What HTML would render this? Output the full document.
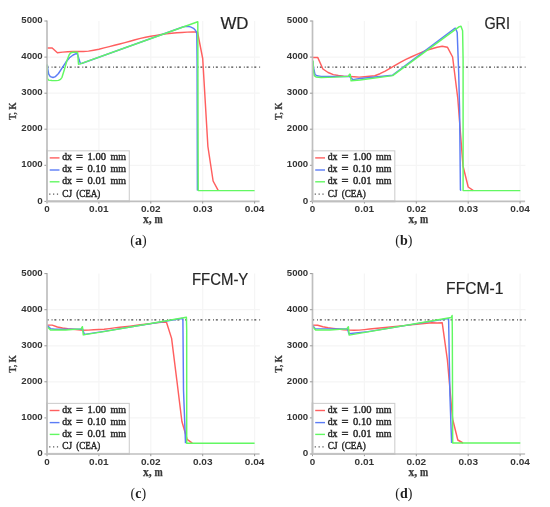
<!DOCTYPE html>
<html><head><meta charset="utf-8"><title>Figure</title>
<style>
html,body{margin:0;padding:0;background:#fff;}
body{width:550px;height:507px;overflow:hidden;font-family:"Liberation Sans",sans-serif;}
svg{display:block;filter:blur(0.35px);}
</style></head>
<body>
<svg width="550" height="507" viewBox="0 0 550 507">
<rect width="550" height="507" fill="#fff"/>
<g stroke="#f5f5f5" stroke-width="1.2"><line x1="98.9" y1="21.0" x2="98.9" y2="201.4"/><line x1="150.8" y1="21.0" x2="150.8" y2="201.4"/><line x1="202.7" y1="21.0" x2="202.7" y2="201.4"/><line x1="254.6" y1="21.0" x2="254.6" y2="201.4"/><line x1="47.0" y1="165.3" x2="259.9" y2="165.3"/><line x1="47.0" y1="129.2" x2="259.9" y2="129.2"/><line x1="47.0" y1="93.2" x2="259.9" y2="93.2"/><line x1="47.0" y1="57.1" x2="259.9" y2="57.1"/></g>
<line x1="47.0" y1="67.2" x2="260.1" y2="67.2" stroke="#444" stroke-width="1.3" stroke-dasharray="2 2.95 0.9 1.84" stroke-dashoffset="0.35"/>
<polyline points="47.0,48.0 52.2,48.0 57.4,52.8 62.6,52.1 67.8,51.8 73.0,51.5 78.1,51.5 83.3,51.5 88.5,51.1 93.7,50.2 98.9,49.2 104.1,47.9 109.3,46.6 114.5,45.3 119.7,44.0 124.9,42.6 130.0,41.2 135.2,39.7 140.4,38.4 145.6,37.3 150.8,36.3 156.0,35.4 161.2,34.5 166.4,33.9 171.6,33.3 176.8,32.8 181.9,32.5 187.1,32.1 192.3,31.9 197.5,32.0 202.7,58.5 207.9,146.5 213.1,181.0 218.3,190.6" fill="none" stroke="#ff5f5f" stroke-width="1.45" stroke-linejoin="round"/>
<polyline points="47.3,64.7 47.8,69.0 48.7,74.2 50.3,76.6 53.0,77.5 55.5,76.6 58.5,73.5 62.0,68.2 65.8,62.3 69.5,57.8 73.1,55.0 76.2,53.6 77.6,54.5 80.4,63.6 82.2,63.3 183.5,26.7 187.0,26.2 190.5,26.9 193.5,28.3 195.6,30.5 196.8,33.5 197.1,60.0 197.4,190.6" fill="none" stroke="#5b7cf6" stroke-width="1.45" stroke-linejoin="round"/>
<polyline points="47.3,64.5 47.4,78.5 48.5,80.1 52.0,80.5 56.0,80.6 58.5,80.4 60.5,79.4 62.0,77.3 64.4,69.5 67.3,59.4 69.1,55.0 70.5,53.0 72.5,52.3 77.6,52.3 78.5,64.3 80.2,63.9 197.8,21.7 198.2,190.6 254.6,190.6" fill="none" stroke="#62f862" stroke-width="1.45" stroke-linejoin="round"/>
<line x1="47.0" y1="20.5" x2="47.0" y2="201.4" stroke="#bfbfbf" stroke-width="1.7"/>
<line x1="46.0" y1="201.4" x2="259.6" y2="201.4" stroke="#bfbfbf" stroke-width="1.7"/>
<g stroke="#999" stroke-width="1"><line x1="44.4" y1="201.4" x2="47.0" y2="201.4"/><line x1="44.4" y1="165.3" x2="47.0" y2="165.3"/><line x1="44.4" y1="129.2" x2="47.0" y2="129.2"/><line x1="44.4" y1="93.2" x2="47.0" y2="93.2"/><line x1="44.4" y1="57.1" x2="47.0" y2="57.1"/><line x1="44.4" y1="21.0" x2="47.0" y2="21.0"/><line x1="47.0" y1="201.4" x2="47.0" y2="203.6"/><line x1="98.9" y1="201.4" x2="98.9" y2="203.6"/><line x1="150.8" y1="201.4" x2="150.8" y2="203.6"/><line x1="202.7" y1="201.4" x2="202.7" y2="203.6"/><line x1="254.6" y1="201.4" x2="254.6" y2="203.6"/></g>
<g font-family="Liberation Sans" font-weight="bold" font-size="9.5" fill="#353535"><text x="42.7" y="203.5" text-anchor="end" textLength="5.5" lengthAdjust="spacingAndGlyphs">0</text><text x="42.7" y="167.4" text-anchor="end" textLength="21.4" lengthAdjust="spacingAndGlyphs">1000</text><text x="42.7" y="131.3" text-anchor="end" textLength="21.4" lengthAdjust="spacingAndGlyphs">2000</text><text x="42.7" y="95.3" text-anchor="end" textLength="21.4" lengthAdjust="spacingAndGlyphs">3000</text><text x="42.7" y="59.2" text-anchor="end" textLength="21.4" lengthAdjust="spacingAndGlyphs">4000</text><text x="42.7" y="23.1" text-anchor="end" textLength="21.4" lengthAdjust="spacingAndGlyphs">5000</text><text x="47.0" y="212.2" text-anchor="middle" textLength="5.5" lengthAdjust="spacingAndGlyphs">0</text><text x="98.9" y="212.2" text-anchor="middle" textLength="19.6" lengthAdjust="spacingAndGlyphs">0.01</text><text x="150.8" y="212.2" text-anchor="middle" textLength="19.6" lengthAdjust="spacingAndGlyphs">0.02</text><text x="202.7" y="212.2" text-anchor="middle" textLength="19.6" lengthAdjust="spacingAndGlyphs">0.03</text><text x="254.6" y="212.2" text-anchor="middle" textLength="19.6" lengthAdjust="spacingAndGlyphs">0.04</text></g>
<text x="143.0" y="223.2" font-family="Liberation Serif" font-weight="bold" font-size="11.6" fill="#3a3a3a" stroke="#3a3a3a" stroke-width="0.25">x,</text>
<text x="154.4" y="223.2" font-family="Liberation Serif" font-weight="bold" font-size="11.6" fill="#3a3a3a" stroke="#3a3a3a" stroke-width="0.25" textLength="8.2" lengthAdjust="spacingAndGlyphs">m</text>
<text transform="translate(16.3,111.3) rotate(-90)" x="0" y="0" text-anchor="middle" font-family="Liberation Serif" font-weight="bold" font-size="10.9" fill="#3a3a3a" stroke="#3a3a3a" stroke-width="0.25" textLength="17.6" lengthAdjust="spacingAndGlyphs">T, K</text>
<rect x="47.3" y="150.8" width="82.0" height="50.0" fill="#fff" stroke="#cfcfcf" stroke-width="1.1"/>
<line x1="47.0" y1="149.8" x2="47.0" y2="201.4" stroke="#bfbfbf" stroke-width="1.7"/>
<line x1="46.0" y1="201.4" x2="130.0" y2="201.4" stroke="#bfbfbf" stroke-width="1.7"/>
<line x1="49.7" y1="157.9" x2="59.5" y2="157.9" stroke="#ff5f5f" stroke-width="1.4"/>
<text x="62.2" y="160.2" font-family="Liberation Serif" font-size="9.8" fill="#262626" stroke="#262626" stroke-width="0.4" textLength="9.8" lengthAdjust="spacingAndGlyphs">dx</text>
<text x="75.9" y="160.2" font-family="Liberation Serif" font-size="9.8" fill="#262626" stroke="#262626" stroke-width="0.4" textLength="7.0" lengthAdjust="spacingAndGlyphs">=</text>
<text x="87.5" y="160.2" font-family="Liberation Serif" font-size="9.8" fill="#262626" stroke="#262626" stroke-width="0.4" textLength="18.5" lengthAdjust="spacingAndGlyphs">1.00</text>
<text x="110.5" y="160.2" font-family="Liberation Serif" font-size="9.8" fill="#262626" stroke="#262626" stroke-width="0.4" textLength="15.5" lengthAdjust="spacingAndGlyphs">mm</text>
<line x1="49.7" y1="170.0" x2="59.5" y2="170.0" stroke="#5b7cf6" stroke-width="1.4"/>
<text x="62.2" y="172.3" font-family="Liberation Serif" font-size="9.8" fill="#262626" stroke="#262626" stroke-width="0.4" textLength="9.8" lengthAdjust="spacingAndGlyphs">dx</text>
<text x="75.9" y="172.3" font-family="Liberation Serif" font-size="9.8" fill="#262626" stroke="#262626" stroke-width="0.4" textLength="7.0" lengthAdjust="spacingAndGlyphs">=</text>
<text x="87.5" y="172.3" font-family="Liberation Serif" font-size="9.8" fill="#262626" stroke="#262626" stroke-width="0.4" textLength="18.5" lengthAdjust="spacingAndGlyphs">0.10</text>
<text x="110.5" y="172.3" font-family="Liberation Serif" font-size="9.8" fill="#262626" stroke="#262626" stroke-width="0.4" textLength="15.5" lengthAdjust="spacingAndGlyphs">mm</text>
<line x1="49.7" y1="181.8" x2="59.5" y2="181.8" stroke="#62f862" stroke-width="1.4"/>
<text x="62.2" y="184.1" font-family="Liberation Serif" font-size="9.8" fill="#262626" stroke="#262626" stroke-width="0.4" textLength="9.8" lengthAdjust="spacingAndGlyphs">dx</text>
<text x="75.9" y="184.1" font-family="Liberation Serif" font-size="9.8" fill="#262626" stroke="#262626" stroke-width="0.4" textLength="7.0" lengthAdjust="spacingAndGlyphs">=</text>
<text x="87.5" y="184.1" font-family="Liberation Serif" font-size="9.8" fill="#262626" stroke="#262626" stroke-width="0.4" textLength="18.5" lengthAdjust="spacingAndGlyphs">0.01</text>
<text x="110.5" y="184.1" font-family="Liberation Serif" font-size="9.8" fill="#262626" stroke="#262626" stroke-width="0.4" textLength="15.5" lengthAdjust="spacingAndGlyphs">mm</text>
<line x1="49.2" y1="194.2" x2="59.5" y2="194.2" stroke="#555" stroke-width="1.2" stroke-dasharray="1.2 2.65"/>
<text x="62.3" y="196.5" font-family="Liberation Serif" font-size="9.8" fill="#262626" stroke="#262626" stroke-width="0.4" textLength="9.7" lengthAdjust="spacingAndGlyphs">CJ</text>
<text x="76.2" y="196.5" font-family="Liberation Serif" font-size="9.8" fill="#262626" stroke="#262626" stroke-width="0.4" textLength="24.1" lengthAdjust="spacingAndGlyphs">(CEA)</text>
<g stroke="#f5f5f5" stroke-width="1.2"><line x1="364.4" y1="21.0" x2="364.4" y2="201.4"/><line x1="416.3" y1="21.0" x2="416.3" y2="201.4"/><line x1="468.2" y1="21.0" x2="468.2" y2="201.4"/><line x1="520.1" y1="21.0" x2="520.1" y2="201.4"/><line x1="312.5" y1="165.3" x2="525.4" y2="165.3"/><line x1="312.5" y1="129.2" x2="525.4" y2="129.2"/><line x1="312.5" y1="93.2" x2="525.4" y2="93.2"/><line x1="312.5" y1="57.1" x2="525.4" y2="57.1"/></g>
<line x1="312.5" y1="67.2" x2="525.6" y2="67.2" stroke="#444" stroke-width="1.3" stroke-dasharray="2 2.95 0.9 1.84" stroke-dashoffset="0.35"/>
<polyline points="312.5,57.4 317.7,57.4 322.9,69.0 328.1,72.5 333.3,74.6 338.4,75.5 343.6,76.1 348.8,76.4 354.0,76.8 359.2,77.1 364.4,76.7 369.6,76.2 374.8,75.7 380.0,73.7 385.2,71.1 390.4,68.1 395.5,65.1 400.7,62.1 405.9,59.4 411.1,57.0 416.3,54.7 421.5,52.3 426.7,50.2 431.9,48.7 437.1,47.2 442.2,46.3 447.4,47.2 452.6,57.0 457.8,98.5 463.0,166.0 468.2,187.0 473.4,190.6" fill="none" stroke="#ff5f5f" stroke-width="1.45" stroke-linejoin="round"/>
<polyline points="312.9,61.4 313.6,68.0 315.0,74.5 317.0,75.8 321.1,76.4 335.0,76.5 349.5,76.4 351.0,77.8 352.7,79.6 360.0,78.5 392.7,75.2 454.5,28.5 455.6,28.2 457.2,32.4 458.7,73.3 459.6,110.0 460.4,189.8 461.0,190.6" fill="none" stroke="#5b7cf6" stroke-width="1.45" stroke-linejoin="round"/>
<polyline points="313.1,60.4 313.4,70.0 314.2,75.7 316.0,77.0 321.1,77.5 335.0,77.1 348.4,76.4 349.6,74.2 350.3,74.5 351.1,80.8 360.0,80.0 392.7,75.6 459.3,26.6 461.0,26.2 462.6,30.7 463.1,60.0 463.1,190.6 520.3,190.6" fill="none" stroke="#62f862" stroke-width="1.45" stroke-linejoin="round"/>
<line x1="312.5" y1="20.5" x2="312.5" y2="201.4" stroke="#bfbfbf" stroke-width="1.7"/>
<line x1="311.5" y1="201.4" x2="525.1" y2="201.4" stroke="#bfbfbf" stroke-width="1.7"/>
<g stroke="#999" stroke-width="1"><line x1="309.9" y1="201.4" x2="312.5" y2="201.4"/><line x1="309.9" y1="165.3" x2="312.5" y2="165.3"/><line x1="309.9" y1="129.2" x2="312.5" y2="129.2"/><line x1="309.9" y1="93.2" x2="312.5" y2="93.2"/><line x1="309.9" y1="57.1" x2="312.5" y2="57.1"/><line x1="309.9" y1="21.0" x2="312.5" y2="21.0"/><line x1="312.5" y1="201.4" x2="312.5" y2="203.6"/><line x1="364.4" y1="201.4" x2="364.4" y2="203.6"/><line x1="416.3" y1="201.4" x2="416.3" y2="203.6"/><line x1="468.2" y1="201.4" x2="468.2" y2="203.6"/><line x1="520.1" y1="201.4" x2="520.1" y2="203.6"/></g>
<g font-family="Liberation Sans" font-weight="bold" font-size="9.5" fill="#353535"><text x="308.2" y="203.5" text-anchor="end" textLength="5.5" lengthAdjust="spacingAndGlyphs">0</text><text x="308.2" y="167.4" text-anchor="end" textLength="21.4" lengthAdjust="spacingAndGlyphs">1000</text><text x="308.2" y="131.3" text-anchor="end" textLength="21.4" lengthAdjust="spacingAndGlyphs">2000</text><text x="308.2" y="95.3" text-anchor="end" textLength="21.4" lengthAdjust="spacingAndGlyphs">3000</text><text x="308.2" y="59.2" text-anchor="end" textLength="21.4" lengthAdjust="spacingAndGlyphs">4000</text><text x="308.2" y="23.1" text-anchor="end" textLength="21.4" lengthAdjust="spacingAndGlyphs">5000</text><text x="312.5" y="212.2" text-anchor="middle" textLength="5.5" lengthAdjust="spacingAndGlyphs">0</text><text x="364.4" y="212.2" text-anchor="middle" textLength="19.6" lengthAdjust="spacingAndGlyphs">0.01</text><text x="416.3" y="212.2" text-anchor="middle" textLength="19.6" lengthAdjust="spacingAndGlyphs">0.02</text><text x="468.2" y="212.2" text-anchor="middle" textLength="19.6" lengthAdjust="spacingAndGlyphs">0.03</text><text x="520.1" y="212.2" text-anchor="middle" textLength="19.6" lengthAdjust="spacingAndGlyphs">0.04</text></g>
<text x="408.5" y="223.2" font-family="Liberation Serif" font-weight="bold" font-size="11.6" fill="#3a3a3a" stroke="#3a3a3a" stroke-width="0.25">x,</text>
<text x="419.9" y="223.2" font-family="Liberation Serif" font-weight="bold" font-size="11.6" fill="#3a3a3a" stroke="#3a3a3a" stroke-width="0.25" textLength="8.2" lengthAdjust="spacingAndGlyphs">m</text>
<text transform="translate(281.8,111.3) rotate(-90)" x="0" y="0" text-anchor="middle" font-family="Liberation Serif" font-weight="bold" font-size="10.9" fill="#3a3a3a" stroke="#3a3a3a" stroke-width="0.25" textLength="17.6" lengthAdjust="spacingAndGlyphs">T, K</text>
<rect x="312.8" y="150.8" width="82.0" height="50.0" fill="#fff" stroke="#cfcfcf" stroke-width="1.1"/>
<line x1="312.5" y1="149.8" x2="312.5" y2="201.4" stroke="#bfbfbf" stroke-width="1.7"/>
<line x1="311.5" y1="201.4" x2="395.5" y2="201.4" stroke="#bfbfbf" stroke-width="1.7"/>
<line x1="315.2" y1="157.9" x2="325.0" y2="157.9" stroke="#ff5f5f" stroke-width="1.4"/>
<text x="327.7" y="160.2" font-family="Liberation Serif" font-size="9.8" fill="#262626" stroke="#262626" stroke-width="0.4" textLength="9.8" lengthAdjust="spacingAndGlyphs">dx</text>
<text x="341.4" y="160.2" font-family="Liberation Serif" font-size="9.8" fill="#262626" stroke="#262626" stroke-width="0.4" textLength="7.0" lengthAdjust="spacingAndGlyphs">=</text>
<text x="353.0" y="160.2" font-family="Liberation Serif" font-size="9.8" fill="#262626" stroke="#262626" stroke-width="0.4" textLength="18.5" lengthAdjust="spacingAndGlyphs">1.00</text>
<text x="376.0" y="160.2" font-family="Liberation Serif" font-size="9.8" fill="#262626" stroke="#262626" stroke-width="0.4" textLength="15.5" lengthAdjust="spacingAndGlyphs">mm</text>
<line x1="315.2" y1="170.0" x2="325.0" y2="170.0" stroke="#5b7cf6" stroke-width="1.4"/>
<text x="327.7" y="172.3" font-family="Liberation Serif" font-size="9.8" fill="#262626" stroke="#262626" stroke-width="0.4" textLength="9.8" lengthAdjust="spacingAndGlyphs">dx</text>
<text x="341.4" y="172.3" font-family="Liberation Serif" font-size="9.8" fill="#262626" stroke="#262626" stroke-width="0.4" textLength="7.0" lengthAdjust="spacingAndGlyphs">=</text>
<text x="353.0" y="172.3" font-family="Liberation Serif" font-size="9.8" fill="#262626" stroke="#262626" stroke-width="0.4" textLength="18.5" lengthAdjust="spacingAndGlyphs">0.10</text>
<text x="376.0" y="172.3" font-family="Liberation Serif" font-size="9.8" fill="#262626" stroke="#262626" stroke-width="0.4" textLength="15.5" lengthAdjust="spacingAndGlyphs">mm</text>
<line x1="315.2" y1="181.8" x2="325.0" y2="181.8" stroke="#62f862" stroke-width="1.4"/>
<text x="327.7" y="184.1" font-family="Liberation Serif" font-size="9.8" fill="#262626" stroke="#262626" stroke-width="0.4" textLength="9.8" lengthAdjust="spacingAndGlyphs">dx</text>
<text x="341.4" y="184.1" font-family="Liberation Serif" font-size="9.8" fill="#262626" stroke="#262626" stroke-width="0.4" textLength="7.0" lengthAdjust="spacingAndGlyphs">=</text>
<text x="353.0" y="184.1" font-family="Liberation Serif" font-size="9.8" fill="#262626" stroke="#262626" stroke-width="0.4" textLength="18.5" lengthAdjust="spacingAndGlyphs">0.01</text>
<text x="376.0" y="184.1" font-family="Liberation Serif" font-size="9.8" fill="#262626" stroke="#262626" stroke-width="0.4" textLength="15.5" lengthAdjust="spacingAndGlyphs">mm</text>
<line x1="314.7" y1="194.2" x2="325.0" y2="194.2" stroke="#555" stroke-width="1.2" stroke-dasharray="1.2 2.65"/>
<text x="327.8" y="196.5" font-family="Liberation Serif" font-size="9.8" fill="#262626" stroke="#262626" stroke-width="0.4" textLength="9.7" lengthAdjust="spacingAndGlyphs">CJ</text>
<text x="341.7" y="196.5" font-family="Liberation Serif" font-size="9.8" fill="#262626" stroke="#262626" stroke-width="0.4" textLength="24.1" lengthAdjust="spacingAndGlyphs">(CEA)</text>
<g stroke="#f5f5f5" stroke-width="1.2"><line x1="98.9" y1="273.6" x2="98.9" y2="454.0"/><line x1="150.8" y1="273.6" x2="150.8" y2="454.0"/><line x1="202.7" y1="273.6" x2="202.7" y2="454.0"/><line x1="254.6" y1="273.6" x2="254.6" y2="454.0"/><line x1="47.0" y1="417.9" x2="259.9" y2="417.9"/><line x1="47.0" y1="381.8" x2="259.9" y2="381.8"/><line x1="47.0" y1="345.8" x2="259.9" y2="345.8"/><line x1="47.0" y1="309.7" x2="259.9" y2="309.7"/></g>
<line x1="47.0" y1="319.8" x2="260.1" y2="319.8" stroke="#444" stroke-width="1.3" stroke-dasharray="2 2.95 0.9 1.84" stroke-dashoffset="0.35"/>
<polyline points="47.0,325.1 52.2,325.1 57.4,327.0 62.6,328.0 67.8,328.8 73.0,329.3 78.1,329.8 83.3,330.2 88.5,330.1 93.7,329.8 98.9,329.5 104.1,329.2 109.3,328.6 114.5,327.9 119.7,327.3 124.9,326.7 130.0,326.1 135.2,325.4 140.4,324.8 145.6,324.2 150.8,323.6 156.0,322.9 161.2,322.3 166.4,322.0 171.6,338.4 176.8,380.0 181.9,421.5 187.1,439.3 192.3,443.2" fill="none" stroke="#ff5f5f" stroke-width="1.45" stroke-linejoin="round"/>
<polyline points="47.3,325.6 50.5,328.6 54.9,329.2 81.1,329.2 82.2,328.1 84.4,334.4 104.0,331.4 181.8,318.5 182.9,319.0 183.5,390.0 185.5,443.2" fill="none" stroke="#5b7cf6" stroke-width="1.45" stroke-linejoin="round"/>
<polyline points="47.3,326.7 50.5,330.0 65.8,330.0 81.1,328.9 82.4,326.7 83.3,334.9 104.0,331.6 186.4,317.2 186.7,330.0 186.7,443.2 254.6,443.2" fill="none" stroke="#62f862" stroke-width="1.45" stroke-linejoin="round"/>
<line x1="47.0" y1="273.1" x2="47.0" y2="454.0" stroke="#bfbfbf" stroke-width="1.7"/>
<line x1="46.0" y1="454.0" x2="259.6" y2="454.0" stroke="#bfbfbf" stroke-width="1.7"/>
<g stroke="#999" stroke-width="1"><line x1="44.4" y1="454.0" x2="47.0" y2="454.0"/><line x1="44.4" y1="417.9" x2="47.0" y2="417.9"/><line x1="44.4" y1="381.8" x2="47.0" y2="381.8"/><line x1="44.4" y1="345.8" x2="47.0" y2="345.8"/><line x1="44.4" y1="309.7" x2="47.0" y2="309.7"/><line x1="44.4" y1="273.6" x2="47.0" y2="273.6"/><line x1="47.0" y1="454.0" x2="47.0" y2="456.2"/><line x1="98.9" y1="454.0" x2="98.9" y2="456.2"/><line x1="150.8" y1="454.0" x2="150.8" y2="456.2"/><line x1="202.7" y1="454.0" x2="202.7" y2="456.2"/><line x1="254.6" y1="454.0" x2="254.6" y2="456.2"/></g>
<g font-family="Liberation Sans" font-weight="bold" font-size="9.5" fill="#353535"><text x="42.7" y="456.1" text-anchor="end" textLength="5.5" lengthAdjust="spacingAndGlyphs">0</text><text x="42.7" y="420.0" text-anchor="end" textLength="21.4" lengthAdjust="spacingAndGlyphs">1000</text><text x="42.7" y="383.9" text-anchor="end" textLength="21.4" lengthAdjust="spacingAndGlyphs">2000</text><text x="42.7" y="347.9" text-anchor="end" textLength="21.4" lengthAdjust="spacingAndGlyphs">3000</text><text x="42.7" y="311.8" text-anchor="end" textLength="21.4" lengthAdjust="spacingAndGlyphs">4000</text><text x="42.7" y="275.7" text-anchor="end" textLength="21.4" lengthAdjust="spacingAndGlyphs">5000</text><text x="47.0" y="464.8" text-anchor="middle" textLength="5.5" lengthAdjust="spacingAndGlyphs">0</text><text x="98.9" y="464.8" text-anchor="middle" textLength="19.6" lengthAdjust="spacingAndGlyphs">0.01</text><text x="150.8" y="464.8" text-anchor="middle" textLength="19.6" lengthAdjust="spacingAndGlyphs">0.02</text><text x="202.7" y="464.8" text-anchor="middle" textLength="19.6" lengthAdjust="spacingAndGlyphs">0.03</text><text x="254.6" y="464.8" text-anchor="middle" textLength="19.6" lengthAdjust="spacingAndGlyphs">0.04</text></g>
<text x="143.0" y="475.8" font-family="Liberation Serif" font-weight="bold" font-size="11.6" fill="#3a3a3a" stroke="#3a3a3a" stroke-width="0.25">x,</text>
<text x="154.4" y="475.8" font-family="Liberation Serif" font-weight="bold" font-size="11.6" fill="#3a3a3a" stroke="#3a3a3a" stroke-width="0.25" textLength="8.2" lengthAdjust="spacingAndGlyphs">m</text>
<text transform="translate(16.3,363.9) rotate(-90)" x="0" y="0" text-anchor="middle" font-family="Liberation Serif" font-weight="bold" font-size="10.9" fill="#3a3a3a" stroke="#3a3a3a" stroke-width="0.25" textLength="17.6" lengthAdjust="spacingAndGlyphs">T, K</text>
<rect x="47.3" y="403.4" width="82.0" height="50.0" fill="#fff" stroke="#cfcfcf" stroke-width="1.1"/>
<line x1="47.0" y1="402.4" x2="47.0" y2="454.0" stroke="#bfbfbf" stroke-width="1.7"/>
<line x1="46.0" y1="454.0" x2="130.0" y2="454.0" stroke="#bfbfbf" stroke-width="1.7"/>
<line x1="49.7" y1="410.5" x2="59.5" y2="410.5" stroke="#ff5f5f" stroke-width="1.4"/>
<text x="62.2" y="412.8" font-family="Liberation Serif" font-size="9.8" fill="#262626" stroke="#262626" stroke-width="0.4" textLength="9.8" lengthAdjust="spacingAndGlyphs">dx</text>
<text x="75.9" y="412.8" font-family="Liberation Serif" font-size="9.8" fill="#262626" stroke="#262626" stroke-width="0.4" textLength="7.0" lengthAdjust="spacingAndGlyphs">=</text>
<text x="87.5" y="412.8" font-family="Liberation Serif" font-size="9.8" fill="#262626" stroke="#262626" stroke-width="0.4" textLength="18.5" lengthAdjust="spacingAndGlyphs">1.00</text>
<text x="110.5" y="412.8" font-family="Liberation Serif" font-size="9.8" fill="#262626" stroke="#262626" stroke-width="0.4" textLength="15.5" lengthAdjust="spacingAndGlyphs">mm</text>
<line x1="49.7" y1="422.6" x2="59.5" y2="422.6" stroke="#5b7cf6" stroke-width="1.4"/>
<text x="62.2" y="424.9" font-family="Liberation Serif" font-size="9.8" fill="#262626" stroke="#262626" stroke-width="0.4" textLength="9.8" lengthAdjust="spacingAndGlyphs">dx</text>
<text x="75.9" y="424.9" font-family="Liberation Serif" font-size="9.8" fill="#262626" stroke="#262626" stroke-width="0.4" textLength="7.0" lengthAdjust="spacingAndGlyphs">=</text>
<text x="87.5" y="424.9" font-family="Liberation Serif" font-size="9.8" fill="#262626" stroke="#262626" stroke-width="0.4" textLength="18.5" lengthAdjust="spacingAndGlyphs">0.10</text>
<text x="110.5" y="424.9" font-family="Liberation Serif" font-size="9.8" fill="#262626" stroke="#262626" stroke-width="0.4" textLength="15.5" lengthAdjust="spacingAndGlyphs">mm</text>
<line x1="49.7" y1="434.4" x2="59.5" y2="434.4" stroke="#62f862" stroke-width="1.4"/>
<text x="62.2" y="436.7" font-family="Liberation Serif" font-size="9.8" fill="#262626" stroke="#262626" stroke-width="0.4" textLength="9.8" lengthAdjust="spacingAndGlyphs">dx</text>
<text x="75.9" y="436.7" font-family="Liberation Serif" font-size="9.8" fill="#262626" stroke="#262626" stroke-width="0.4" textLength="7.0" lengthAdjust="spacingAndGlyphs">=</text>
<text x="87.5" y="436.7" font-family="Liberation Serif" font-size="9.8" fill="#262626" stroke="#262626" stroke-width="0.4" textLength="18.5" lengthAdjust="spacingAndGlyphs">0.01</text>
<text x="110.5" y="436.7" font-family="Liberation Serif" font-size="9.8" fill="#262626" stroke="#262626" stroke-width="0.4" textLength="15.5" lengthAdjust="spacingAndGlyphs">mm</text>
<line x1="49.2" y1="446.8" x2="59.5" y2="446.8" stroke="#555" stroke-width="1.2" stroke-dasharray="1.2 2.65"/>
<text x="62.3" y="449.1" font-family="Liberation Serif" font-size="9.8" fill="#262626" stroke="#262626" stroke-width="0.4" textLength="9.7" lengthAdjust="spacingAndGlyphs">CJ</text>
<text x="76.2" y="449.1" font-family="Liberation Serif" font-size="9.8" fill="#262626" stroke="#262626" stroke-width="0.4" textLength="24.1" lengthAdjust="spacingAndGlyphs">(CEA)</text>
<g stroke="#f5f5f5" stroke-width="1.2"><line x1="364.4" y1="273.6" x2="364.4" y2="454.0"/><line x1="416.3" y1="273.6" x2="416.3" y2="454.0"/><line x1="468.2" y1="273.6" x2="468.2" y2="454.0"/><line x1="520.1" y1="273.6" x2="520.1" y2="454.0"/><line x1="312.5" y1="417.9" x2="525.4" y2="417.9"/><line x1="312.5" y1="381.8" x2="525.4" y2="381.8"/><line x1="312.5" y1="345.8" x2="525.4" y2="345.8"/><line x1="312.5" y1="309.7" x2="525.4" y2="309.7"/></g>
<line x1="312.5" y1="319.8" x2="525.6" y2="319.8" stroke="#444" stroke-width="1.3" stroke-dasharray="2 2.95 0.9 1.84" stroke-dashoffset="0.35"/>
<polyline points="312.5,325.1 317.7,325.3 322.9,326.8 328.1,327.7 333.3,328.4 338.4,329.0 343.6,329.7 348.8,330.1 354.0,330.2 359.2,330.1 364.4,329.6 369.6,329.0 374.8,328.5 380.0,328.0 385.2,327.5 390.4,326.9 395.5,326.4 400.7,325.9 405.9,325.4 411.1,324.9 416.3,324.3 421.5,323.8 426.7,323.3 431.9,322.8 437.1,323.0 442.2,322.7 447.4,360.0 452.6,419.0 457.8,440.0 463.0,443.0" fill="none" stroke="#ff5f5f" stroke-width="1.45" stroke-linejoin="round"/>
<polyline points="312.9,325.6 315.1,328.6 346.7,328.9 347.5,328.6 348.9,333.8 368.0,331.6 447.8,318.6 448.6,318.8 449.9,395.0 451.6,443.0" fill="none" stroke="#5b7cf6" stroke-width="1.45" stroke-linejoin="round"/>
<polyline points="312.9,326.7 315.6,330.0 329.8,330.0 346.7,328.9 348.4,326.7 349.2,335.1 368.0,331.9 451.2,317.5 452.1,315.5 452.3,330.0 452.7,443.0 520.3,443.0" fill="none" stroke="#62f862" stroke-width="1.45" stroke-linejoin="round"/>
<line x1="312.5" y1="273.1" x2="312.5" y2="454.0" stroke="#bfbfbf" stroke-width="1.7"/>
<line x1="311.5" y1="454.0" x2="525.1" y2="454.0" stroke="#bfbfbf" stroke-width="1.7"/>
<g stroke="#999" stroke-width="1"><line x1="309.9" y1="454.0" x2="312.5" y2="454.0"/><line x1="309.9" y1="417.9" x2="312.5" y2="417.9"/><line x1="309.9" y1="381.8" x2="312.5" y2="381.8"/><line x1="309.9" y1="345.8" x2="312.5" y2="345.8"/><line x1="309.9" y1="309.7" x2="312.5" y2="309.7"/><line x1="309.9" y1="273.6" x2="312.5" y2="273.6"/><line x1="312.5" y1="454.0" x2="312.5" y2="456.2"/><line x1="364.4" y1="454.0" x2="364.4" y2="456.2"/><line x1="416.3" y1="454.0" x2="416.3" y2="456.2"/><line x1="468.2" y1="454.0" x2="468.2" y2="456.2"/><line x1="520.1" y1="454.0" x2="520.1" y2="456.2"/></g>
<g font-family="Liberation Sans" font-weight="bold" font-size="9.5" fill="#353535"><text x="308.2" y="456.1" text-anchor="end" textLength="5.5" lengthAdjust="spacingAndGlyphs">0</text><text x="308.2" y="420.0" text-anchor="end" textLength="21.4" lengthAdjust="spacingAndGlyphs">1000</text><text x="308.2" y="383.9" text-anchor="end" textLength="21.4" lengthAdjust="spacingAndGlyphs">2000</text><text x="308.2" y="347.9" text-anchor="end" textLength="21.4" lengthAdjust="spacingAndGlyphs">3000</text><text x="308.2" y="311.8" text-anchor="end" textLength="21.4" lengthAdjust="spacingAndGlyphs">4000</text><text x="308.2" y="275.7" text-anchor="end" textLength="21.4" lengthAdjust="spacingAndGlyphs">5000</text><text x="312.5" y="464.8" text-anchor="middle" textLength="5.5" lengthAdjust="spacingAndGlyphs">0</text><text x="364.4" y="464.8" text-anchor="middle" textLength="19.6" lengthAdjust="spacingAndGlyphs">0.01</text><text x="416.3" y="464.8" text-anchor="middle" textLength="19.6" lengthAdjust="spacingAndGlyphs">0.02</text><text x="468.2" y="464.8" text-anchor="middle" textLength="19.6" lengthAdjust="spacingAndGlyphs">0.03</text><text x="520.1" y="464.8" text-anchor="middle" textLength="19.6" lengthAdjust="spacingAndGlyphs">0.04</text></g>
<text x="408.5" y="475.8" font-family="Liberation Serif" font-weight="bold" font-size="11.6" fill="#3a3a3a" stroke="#3a3a3a" stroke-width="0.25">x,</text>
<text x="419.9" y="475.8" font-family="Liberation Serif" font-weight="bold" font-size="11.6" fill="#3a3a3a" stroke="#3a3a3a" stroke-width="0.25" textLength="8.2" lengthAdjust="spacingAndGlyphs">m</text>
<text transform="translate(281.8,363.9) rotate(-90)" x="0" y="0" text-anchor="middle" font-family="Liberation Serif" font-weight="bold" font-size="10.9" fill="#3a3a3a" stroke="#3a3a3a" stroke-width="0.25" textLength="17.6" lengthAdjust="spacingAndGlyphs">T, K</text>
<rect x="312.8" y="403.4" width="82.0" height="50.0" fill="#fff" stroke="#cfcfcf" stroke-width="1.1"/>
<line x1="312.5" y1="402.4" x2="312.5" y2="454.0" stroke="#bfbfbf" stroke-width="1.7"/>
<line x1="311.5" y1="454.0" x2="395.5" y2="454.0" stroke="#bfbfbf" stroke-width="1.7"/>
<line x1="315.2" y1="410.5" x2="325.0" y2="410.5" stroke="#ff5f5f" stroke-width="1.4"/>
<text x="327.7" y="412.8" font-family="Liberation Serif" font-size="9.8" fill="#262626" stroke="#262626" stroke-width="0.4" textLength="9.8" lengthAdjust="spacingAndGlyphs">dx</text>
<text x="341.4" y="412.8" font-family="Liberation Serif" font-size="9.8" fill="#262626" stroke="#262626" stroke-width="0.4" textLength="7.0" lengthAdjust="spacingAndGlyphs">=</text>
<text x="353.0" y="412.8" font-family="Liberation Serif" font-size="9.8" fill="#262626" stroke="#262626" stroke-width="0.4" textLength="18.5" lengthAdjust="spacingAndGlyphs">1.00</text>
<text x="376.0" y="412.8" font-family="Liberation Serif" font-size="9.8" fill="#262626" stroke="#262626" stroke-width="0.4" textLength="15.5" lengthAdjust="spacingAndGlyphs">mm</text>
<line x1="315.2" y1="422.6" x2="325.0" y2="422.6" stroke="#5b7cf6" stroke-width="1.4"/>
<text x="327.7" y="424.9" font-family="Liberation Serif" font-size="9.8" fill="#262626" stroke="#262626" stroke-width="0.4" textLength="9.8" lengthAdjust="spacingAndGlyphs">dx</text>
<text x="341.4" y="424.9" font-family="Liberation Serif" font-size="9.8" fill="#262626" stroke="#262626" stroke-width="0.4" textLength="7.0" lengthAdjust="spacingAndGlyphs">=</text>
<text x="353.0" y="424.9" font-family="Liberation Serif" font-size="9.8" fill="#262626" stroke="#262626" stroke-width="0.4" textLength="18.5" lengthAdjust="spacingAndGlyphs">0.10</text>
<text x="376.0" y="424.9" font-family="Liberation Serif" font-size="9.8" fill="#262626" stroke="#262626" stroke-width="0.4" textLength="15.5" lengthAdjust="spacingAndGlyphs">mm</text>
<line x1="315.2" y1="434.4" x2="325.0" y2="434.4" stroke="#62f862" stroke-width="1.4"/>
<text x="327.7" y="436.7" font-family="Liberation Serif" font-size="9.8" fill="#262626" stroke="#262626" stroke-width="0.4" textLength="9.8" lengthAdjust="spacingAndGlyphs">dx</text>
<text x="341.4" y="436.7" font-family="Liberation Serif" font-size="9.8" fill="#262626" stroke="#262626" stroke-width="0.4" textLength="7.0" lengthAdjust="spacingAndGlyphs">=</text>
<text x="353.0" y="436.7" font-family="Liberation Serif" font-size="9.8" fill="#262626" stroke="#262626" stroke-width="0.4" textLength="18.5" lengthAdjust="spacingAndGlyphs">0.01</text>
<text x="376.0" y="436.7" font-family="Liberation Serif" font-size="9.8" fill="#262626" stroke="#262626" stroke-width="0.4" textLength="15.5" lengthAdjust="spacingAndGlyphs">mm</text>
<line x1="314.7" y1="446.8" x2="325.0" y2="446.8" stroke="#555" stroke-width="1.2" stroke-dasharray="1.2 2.65"/>
<text x="327.8" y="449.1" font-family="Liberation Serif" font-size="9.8" fill="#262626" stroke="#262626" stroke-width="0.4" textLength="9.7" lengthAdjust="spacingAndGlyphs">CJ</text>
<text x="341.7" y="449.1" font-family="Liberation Serif" font-size="9.8" fill="#262626" stroke="#262626" stroke-width="0.4" textLength="24.1" lengthAdjust="spacingAndGlyphs">(CEA)</text>
<text x="220.4" y="29.2" font-family="Liberation Sans" font-size="17.1" fill="#262626" stroke="#262626" stroke-width="0.2" textLength="28.0" lengthAdjust="spacingAndGlyphs">WD</text>
<text x="484.4" y="28.5" font-family="Liberation Sans" font-size="16.2" fill="#262626" stroke="#262626" stroke-width="0.2" textLength="25.6" lengthAdjust="spacingAndGlyphs">GRI</text>
<text x="192.0" y="285.0" font-family="Liberation Sans" font-size="16.0" fill="#262626" stroke="#262626" stroke-width="0.2" textLength="56.3" lengthAdjust="spacingAndGlyphs">FFCM-Y</text>
<text x="446.1" y="294.1" font-family="Liberation Sans" font-size="15.8" fill="#262626" stroke="#262626" stroke-width="0.2" textLength="57.3" lengthAdjust="spacingAndGlyphs">FFCM-1</text>
<text x="138.4" y="245.1" text-anchor="middle" font-family="Liberation Serif" font-size="14.0" fill="#1e1e1e">(<tspan font-weight="bold">a</tspan>)</text>
<text x="403.9" y="245.1" text-anchor="middle" font-family="Liberation Serif" font-size="14.0" fill="#1e1e1e">(<tspan font-weight="bold">b</tspan>)</text>
<text x="138.4" y="497.7" text-anchor="middle" font-family="Liberation Serif" font-size="14.0" fill="#1e1e1e">(<tspan font-weight="bold">c</tspan>)</text>
<text x="403.9" y="497.7" text-anchor="middle" font-family="Liberation Serif" font-size="14.0" fill="#1e1e1e">(<tspan font-weight="bold">d</tspan>)</text>
</svg>
</body></html>
